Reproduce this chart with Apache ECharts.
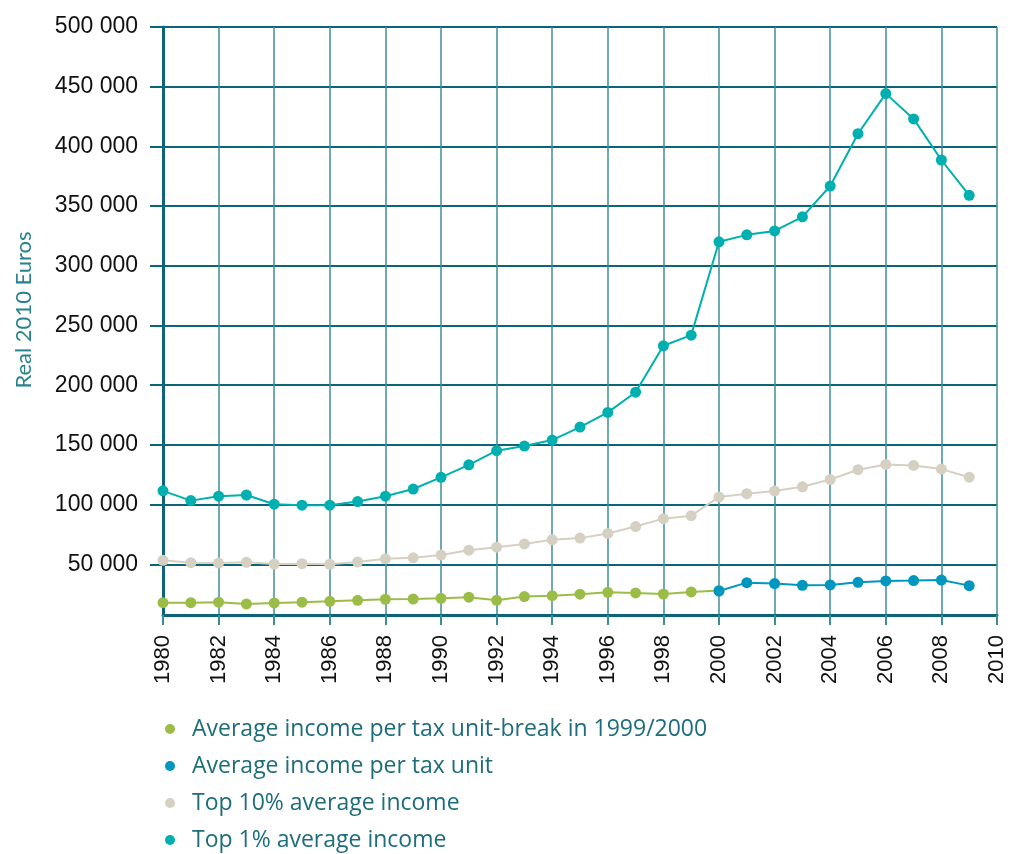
<!DOCTYPE html>
<html>
<head>
<meta charset="utf-8">
<script src="https://cdn.jsdelivr.net/npm/echarts@6/dist/echarts.min.js"></script>
<style>
  html, body { margin: 0; padding: 0; background: #fff; }
  #line-chart { width: 1018px; height: 854px; }
</style>
</head>
<body>
<div id="line-chart"></div>
<script>
var years = [1980, 1981, 1982, 1983, 1984, 1985, 1986, 1987, 1988, 1989,
             1990, 1991, 1992, 1993, 1994, 1995, 1996, 1997, 1998, 1999,
             2000, 2001, 2002, 2003, 2004, 2005, 2006, 2007, 2008, 2009];

// average income per tax unit, series with a break in 1999/2000 (1980-2000)
var avgBreak = [17800, 17800, 18200, 16800, 17600, 18200, 19000, 19800, 20700, 20900,
                21500, 22400, 19800, 22900, 23700, 24900, 26500, 26000, 25100, 26800,
                28000];
// average income per tax unit (2000-2009)
var avgYears = [2000, 2001, 2002, 2003, 2004, 2005, 2006, 2007, 2008, 2009];
var avgNew = [27600, 34600, 33800, 32400, 32700, 34900, 36000, 36300, 36800, 32100];

var top10 = [53300, 51300, 51000, 51600, 50200, 50500, 50000, 51900, 54600, 55400,
             57700, 61800, 64300, 67000, 70600, 71900, 75800, 81600, 88200, 90700,
             106400, 109100, 111300, 114900, 121000, 129200, 133600, 132800, 129700, 122900];

var top1 = [111500, 103300, 107000, 108000, 100300, 99500, 99500, 102500, 107000, 113000,
            122800, 133300, 145100, 149000, 154000, 164900, 177200, 194100, 233000, 241900,
            320100, 325900, 329200, 341000, 366800, 410600, 444200, 423000, 388600, 359000];

var yTicks = [50000, 100000, 150000, 200000, 250000, 300000, 350000, 400000, 450000, 500000];

var seriesNames = ['Average income per tax unit-break in 1999/2000', 'Average income per tax unit',
                   'Top 10% average income', 'Top 1% average income'];

function pairs(xs, ys) {
    return ys.map(function (v, i) { return [xs[i], v]; });
}

var chart = echarts.init(document.getElementById('line-chart'));
var option = {
    color: ['#9bbd47', '#0096bf', '#d5d0c2', '#00afaf'],
    animation: false,
    grid: { left: 163, right: 21, top: 27, bottom: 239 },
    legend: {
        orient: 'vertical',
        left: 165,
        top: 717,
        height: 300,
        padding: 0,
        icon: 'circle',
        itemWidth: 34,
        itemHeight: 10,
        itemGap: 13,
        textStyle: { color: '#1d6d7a', fontSize: 23, fontFamily: 'Open Sans', lineHeight: 24 },
        data: seriesNames
    },
    xAxis: {
        type: 'value',
        min: 1980,
        max: 2010,
        interval: 2,
        axisLine: { onZero: false, lineStyle: { color: '#0b6577', width: 3 } },
        axisTick: { length: 10, lineStyle: { color: '#3f8c98', width: 2 } },
        axisLabel: {
            rotate: 90, margin: 20, fontSize: 22, color: '#111', fontFamily: 'Liberation Sans',
            formatter: function (v) { return String(v); }
        },
        splitLine: { show: true, lineStyle: { color: '#3f8c98', width: 1.5 } }
    },
    yAxis: {
        type: 'value',
        min: 7500,
        max: 500000,
        name: 'Real 2010 Euros',
        nameLocation: 'middle',
        nameGap: 128,
        nameTextStyle: { color: '#2a8290', fontSize: 22, fontFamily: 'Lato', padding: [0, 0, 0, 22] },
        axisLine: { show: true, lineStyle: { color: '#0b6577', width: 3 } },
        axisTick: { show: true, length: 13, customValues: yTicks, lineStyle: { color: '#0b6577', width: 2 } },
        axisLabel: {
            customValues: yTicks,
            margin: 25,
            fontSize: 23,
            color: '#111',
            fontFamily: 'Liberation Sans',
            formatter: function (v) { return String(v).replace(/\B(?=(\d{3})+(?!\d))/g, ' '); }
        },
        splitLine: { show: true, lineStyle: { color: '#0b6577', width: 2 } }
    },
    series: [{
        name: seriesNames[0],
        type: 'line',
        symbol: 'circle',
        symbolSize: 11,
        lineStyle: { width: 2 },
        data: pairs(years, avgBreak)
    }, {
        name: seriesNames[1],
        type: 'line',
        symbol: 'circle',
        symbolSize: 11,
        lineStyle: { width: 2 },
        data: pairs(avgYears, avgNew)
    }, {
        name: seriesNames[2],
        type: 'line',
        symbol: 'circle',
        symbolSize: 11,
        lineStyle: { width: 2 },
        data: pairs(years, top10)
    }, {
        name: seriesNames[3],
        type: 'line',
        symbol: 'circle',
        symbolSize: 11,
        lineStyle: { width: 2 },
        data: pairs(years, top1)
    }]
};

chart.setOption(option);
window.onresize = function () {
    chart.resize();
};
</script>
</body>
</html>
